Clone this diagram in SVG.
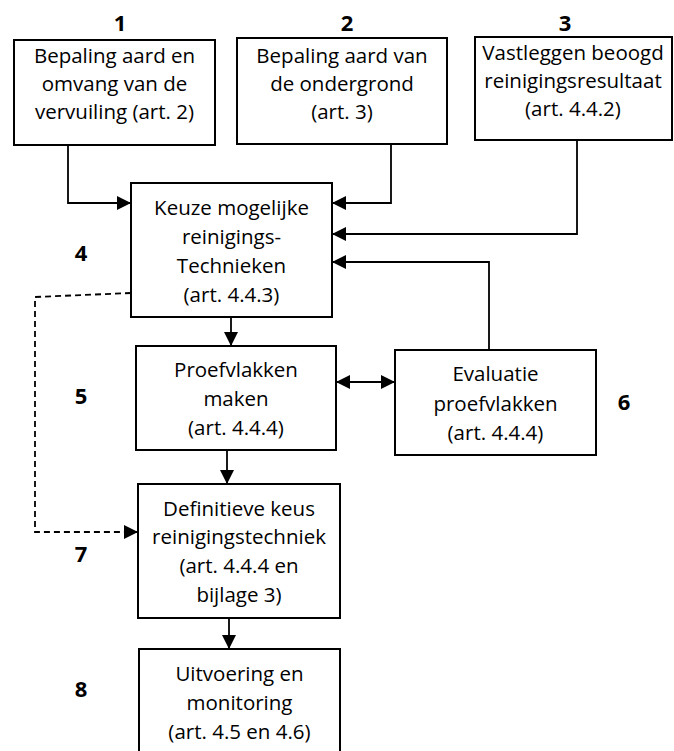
<svg xmlns="http://www.w3.org/2000/svg" width="674" height="751" viewBox="0 0 674 751">
<style>
  .box { fill: #ffffff; stroke: #000000; stroke-width: 2; }
  .t { font-family: "Open Sans", "Liberation Sans", sans-serif; font-size: 20.5px; fill: #000; text-anchor: middle; }
  .n { font-family: "Open Sans", "Liberation Sans", sans-serif; font-size: 22px; font-weight: bold; fill: #000; text-anchor: middle; }
  .c { fill: none; stroke: #000; stroke-width: 1.8; }
  .d { fill: none; stroke: #000; stroke-width: 1.8; stroke-dasharray: 6 4; }
</style>
<defs>
  <marker id="ah" viewBox="0 0 14 14" refX="14" refY="7" markerWidth="14" markerHeight="14" markerUnits="userSpaceOnUse" orient="auto-start-reverse">
    <path d="M0,0 L14,7 L0,14 Z" fill="#000"/>
  </marker>
</defs>
<rect width="674" height="751" fill="#fff"/>

<g id="labels">
  <text class="n" x="120" y="31">1</text>
  <text class="n" x="347" y="31">2</text>
  <text class="n" x="565" y="31">3</text>
  <text class="n" x="81" y="261">4</text>
  <text class="n" x="81" y="404">5</text>
  <text class="n" x="624" y="410">6</text>
  <text class="n" x="81" y="562">7</text>
  <text class="n" x="81" y="697">8</text>
</g>

<g id="connectors">
  <polyline class="c" points="68,145 68,203 131,203" marker-end="url(#ah)"/>
  <polyline class="c" points="391,144 391,203 332,203" marker-end="url(#ah)"/>
  <polyline class="c" points="577,140 577,234 332,234" marker-end="url(#ah)"/>
  <polyline class="c" points="489,350 489,262 332,262" marker-end="url(#ah)"/>
  <line class="c" x1="231" y1="317" x2="231" y2="346" marker-end="url(#ah)"/>
  <line class="c" x1="336" y1="382" x2="395" y2="382" marker-start="url(#ah)" marker-end="url(#ah)"/>
  <line class="c" x1="227" y1="450" x2="227" y2="484" marker-end="url(#ah)"/>
  <line class="c" x1="229" y1="618" x2="229" y2="649" marker-end="url(#ah)"/>
  <polyline class="d" points="131,293 35,297 35,532 138,532" marker-end="url(#ah)"/>
</g>

<g id="node1">
  <rect class="box" x="14" y="40" width="201" height="105"/>
  <text class="t" x="114.5" y="63">Bepaling aard en</text>
  <text class="t" x="114.5" y="91">omvang van de</text>
  <text class="t" x="114.5" y="119">vervuiling (art. 2)</text>
</g>
<g id="node2">
  <rect class="box" x="237" y="38" width="210" height="106"/>
  <text class="t" x="342" y="63">Bepaling aard van</text>
  <text class="t" x="342" y="91">de ondergrond</text>
  <text class="t" x="342" y="119">(art. 3)</text>
</g>
<g id="node3">
  <rect class="box" x="475" y="37" width="197" height="103"/>
  <text class="t" x="573" y="60">Vastleggen beoogd</text>
  <text class="t" x="573" y="88">reinigingsresultaat</text>
  <text class="t" x="573" y="116">(art. 4.4.2)</text>
</g>
<g id="node4">
  <rect class="box" x="131" y="183" width="201" height="134"/>
  <text class="t" x="231.5" y="215">Keuze mogelijke</text>
  <text class="t" x="231.5" y="244">reinigings-</text>
  <text class="t" x="231.5" y="273">Technieken</text>
  <text class="t" x="231.5" y="302">(art. 4.4.3)</text>
</g>
<g id="node5">
  <rect class="box" x="136" y="346" width="200" height="104"/>
  <text class="t" x="236" y="377">Proefvlakken</text>
  <text class="t" x="236" y="406">maken</text>
  <text class="t" x="236" y="435">(art. 4.4.4)</text>
</g>
<g id="node6">
  <rect class="box" x="395" y="350" width="201" height="105"/>
  <text class="t" x="495.5" y="381">Evaluatie</text>
  <text class="t" x="495.5" y="411">proefvlakken</text>
  <text class="t" x="495.5" y="440">(art. 4.4.4)</text>
</g>
<g id="node7">
  <rect class="box" x="138" y="484" width="202" height="134"/>
  <text class="t" x="239" y="516">Definitieve keus</text>
  <text class="t" x="239" y="544">reinigingstechniek</text>
  <text class="t" x="239" y="573">(art. 4.4.4 en</text>
  <text class="t" x="239" y="602">bijlage 3)</text>
</g>
<g id="node8">
  <rect class="box" x="139" y="649" width="201" height="110"/>
  <text class="t" x="239.5" y="681">Uitvoering en</text>
  <text class="t" x="239.5" y="710">monitoring</text>
  <text class="t" x="239.5" y="739">(art. 4.5 en 4.6)</text>
</g>
</svg>
